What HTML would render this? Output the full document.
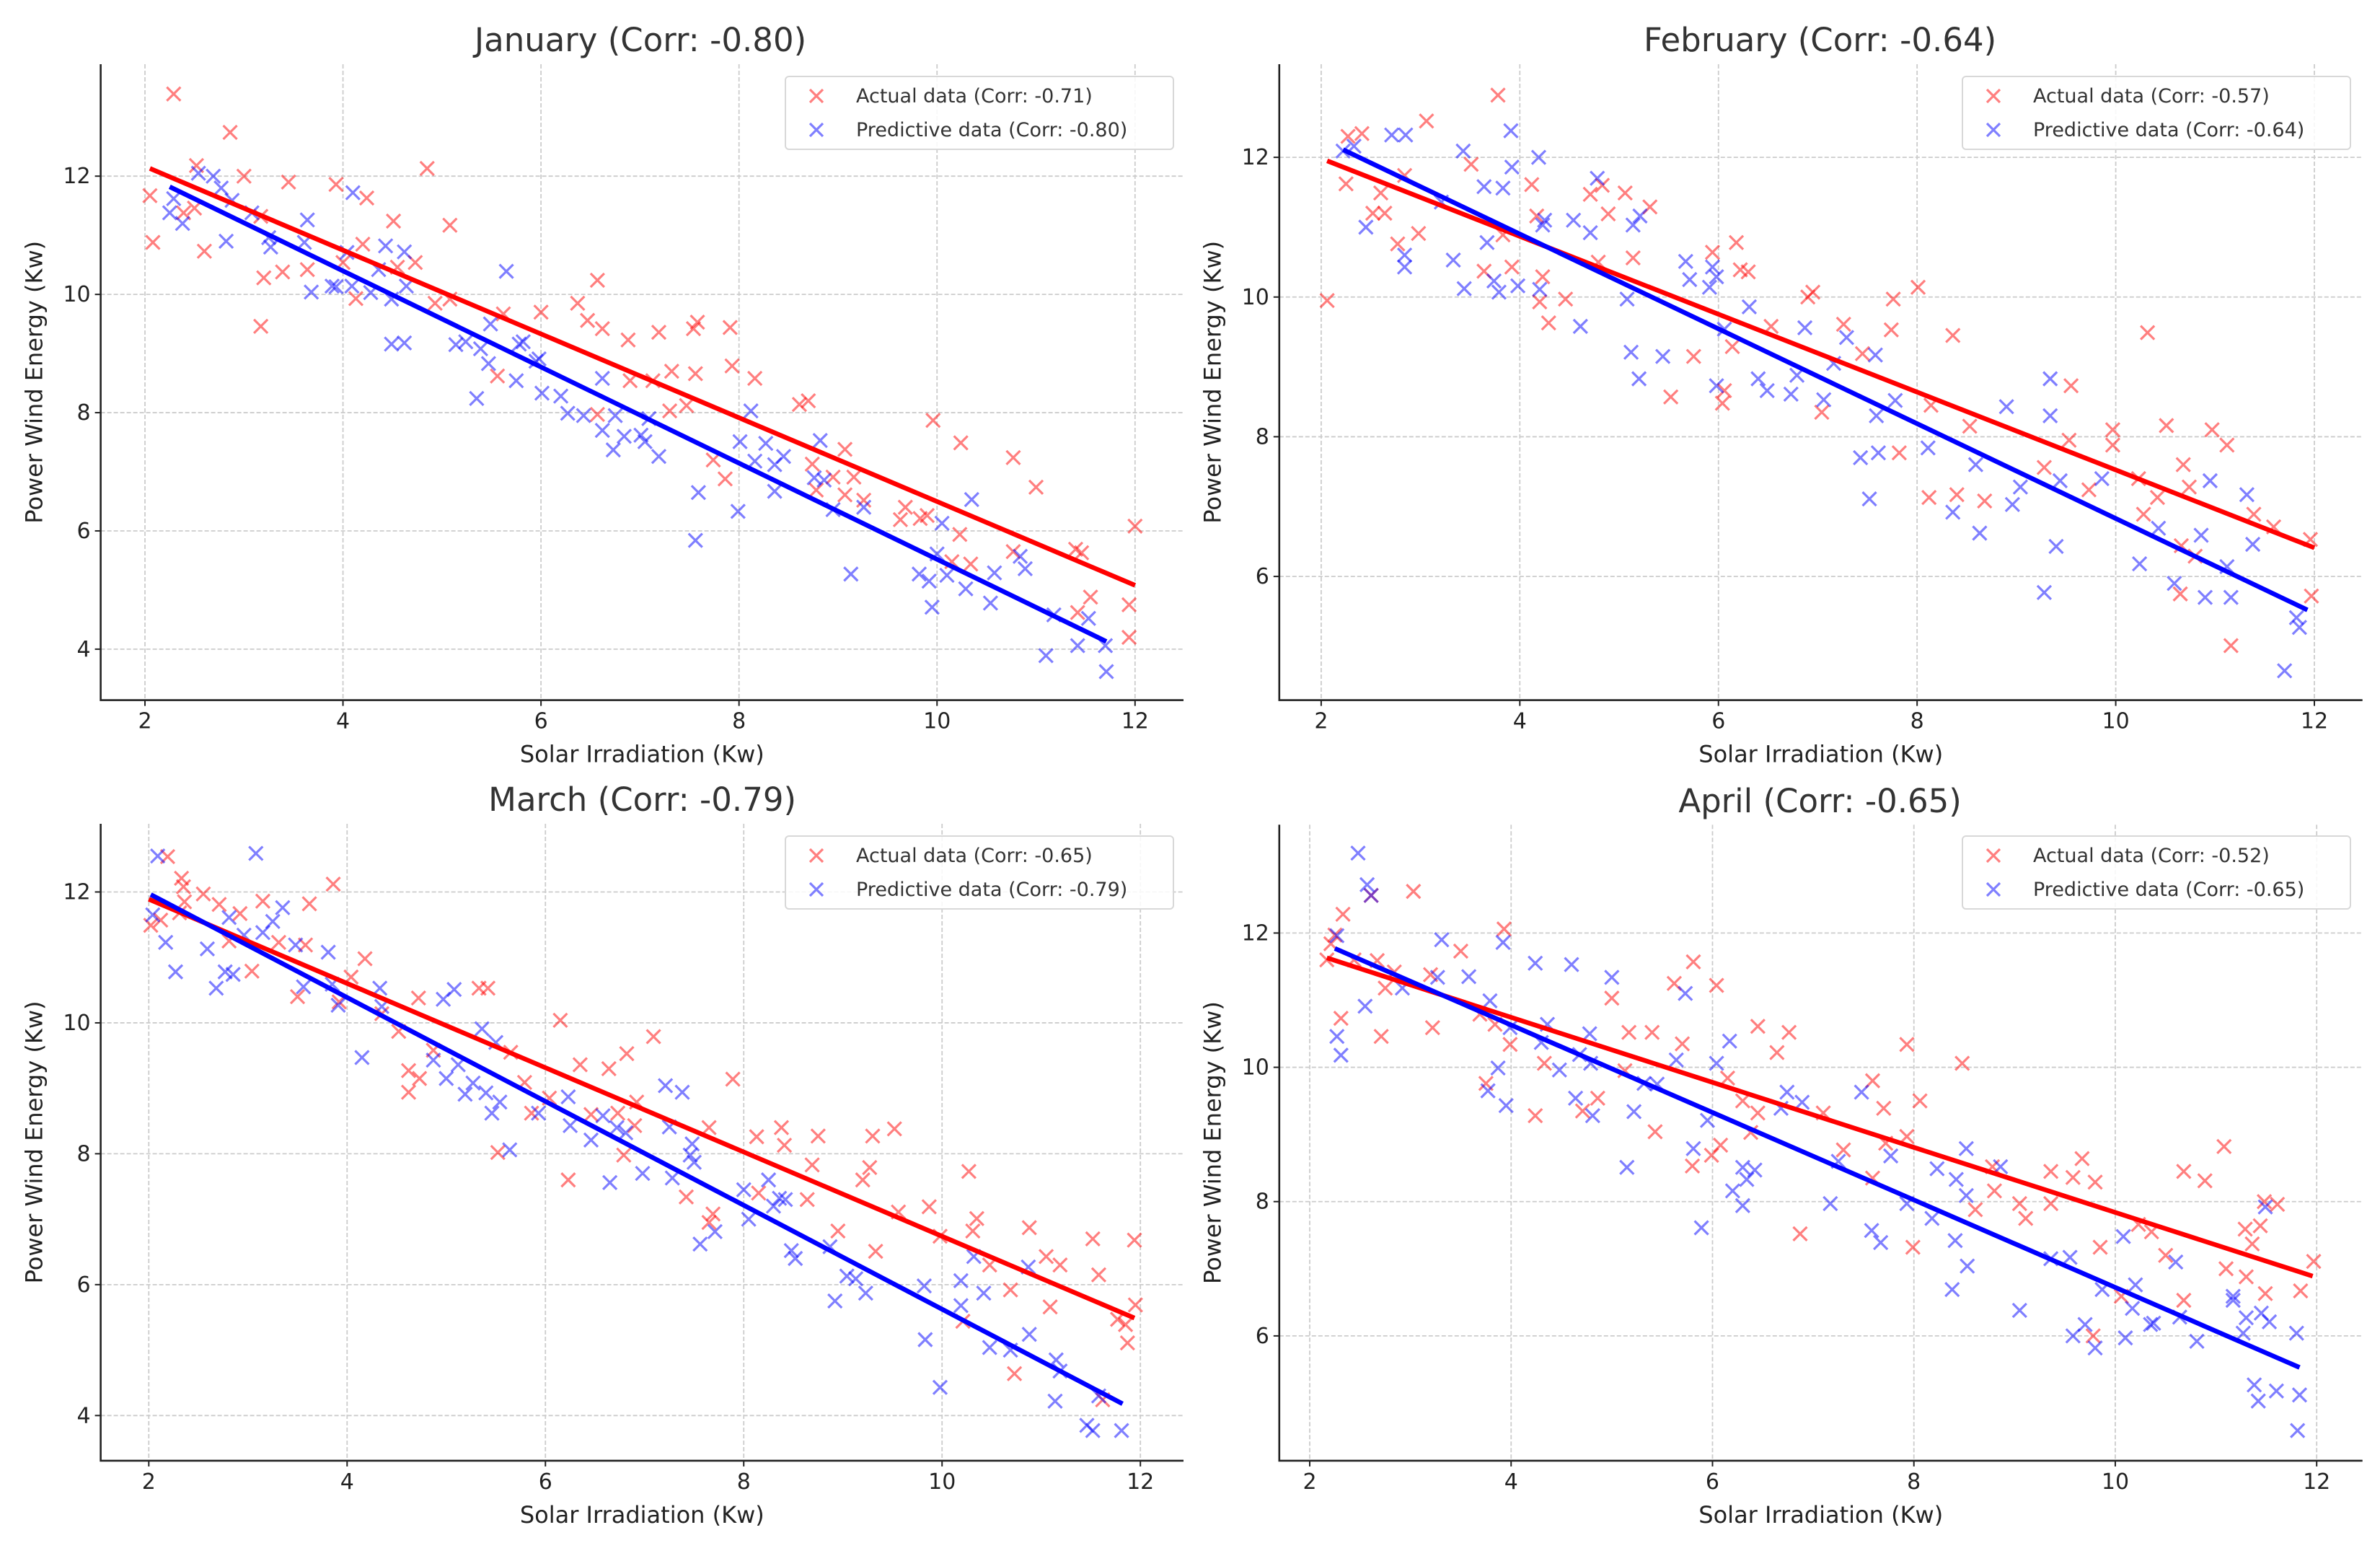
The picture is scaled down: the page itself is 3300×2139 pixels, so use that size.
<!DOCTYPE html>
<html><head><meta charset="utf-8"><style>
html,body{margin:0;padding:0;background:#fff;}
svg{display:block;font-family:"DejaVu Sans","Liberation Sans",sans-serif;}
</style></head><body>
<svg id="chart" xmlns="http://www.w3.org/2000/svg" width="3300" height="2139" viewBox="0 0 3300 2139"></svg>
<script>
const xTicks=[2,4,6,8,10,12];
const janYTicks=[4,6,8,10,12];
const febYTicks=[6,8,10,12];
const marYTicks=[4,6,8,10,12];
const aprYTicks=[6,8,10,12];
const titles=["January (Corr: -0.80)","February (Corr: -0.64)","March (Corr: -0.79)","April (Corr: -0.65)"];
const actualLabels=["Actual data (Corr: -0.71)","Actual data (Corr: -0.57)","Actual data (Corr: -0.65)","Actual data (Corr: -0.52)"];
const predLabels=["Predictive data (Corr: -0.80)","Predictive data (Corr: -0.64)","Predictive data (Corr: -0.79)","Predictive data (Corr: -0.65)"];
const janActualLine=[[2.05,12.13],[12.0,5.08]];
const janPredLine=[[2.25,11.82],[11.71,4.13]];
const febActualLine=[[2.06,11.95],[12.0,6.41]];
const febPredLine=[[2.22,12.11],[11.93,5.52]];
const marActualLine=[[2.0,11.89],[11.94,5.49]];
const marPredLine=[[2.02,11.96],[11.82,4.18]];
const aprActualLine=[[2.17,11.63],[11.96,6.89]];
const aprPredLine=[[2.25,11.77],[11.83,5.53]];
const janActual=[[2.05,11.67],[2.08,10.88],[2.29,13.39],[2.39,11.38],[2.5,11.46],[2.52,12.18],[2.6,10.73],[2.86,12.74],[3.0,12.0],[3.17,11.32],[3.17,9.46],[3.2,10.28],[3.39,10.38],[3.45,11.9],[3.64,10.42],[3.93,11.86],[4.0,10.54],[4.13,9.93],[4.2,10.85],[4.24,11.63],[4.51,11.24],[4.55,10.46],[4.73,10.54],[4.85,12.13],[4.93,9.85],[5.08,11.17],[5.08,9.92],[5.56,8.62],[5.62,9.67],[6.0,9.7],[6.37,9.85],[6.47,9.56],[6.57,10.24],[6.57,7.97],[6.62,9.42],[6.88,9.23],[6.9,8.54],[7.13,8.54],[7.19,9.36],[7.3,8.03],[7.32,8.7],[7.47,8.12],[7.54,9.42],[7.56,8.66],[7.58,9.53],[7.74,7.2],[7.86,6.88],[7.91,9.44],[7.93,8.79],[8.16,8.58],[8.61,8.14],[8.7,8.2],[8.74,7.13],[8.78,6.69],[8.95,6.91],[9.07,7.38],[9.07,6.61],[9.16,6.91],[9.26,6.52],[9.63,6.19],[9.68,6.4],[9.83,6.21],[9.9,6.26],[9.96,7.87],[10.15,5.48],[10.23,5.94],[10.24,7.49],[10.34,5.44],[10.77,7.24],[10.77,5.65],[11.0,6.74],[11.4,5.69],[11.46,5.63],[11.42,4.62],[11.55,4.88],[11.94,4.75],[11.94,4.2],[12.0,6.08]];
const janPred=[[2.25,11.38],[2.29,11.62],[2.38,11.2],[2.54,12.05],[2.69,12.0],[2.77,11.8],[2.82,10.9],[2.88,11.59],[3.08,11.38],[3.25,10.96],[3.27,10.8],[3.61,10.88],[3.64,11.26],[3.68,10.04],[3.89,10.14],[3.93,10.13],[4.04,10.71],[4.09,10.14],[4.1,11.72],[4.28,10.03],[4.36,10.42],[4.43,10.82],[4.49,9.16],[4.49,9.92],[4.62,9.18],[4.62,10.72],[4.64,10.14],[5.14,9.15],[5.24,9.2],[5.35,8.24],[5.39,9.08],[5.47,8.83],[5.49,9.5],[5.65,10.39],[5.75,8.54],[5.78,9.16],[5.82,9.2],[5.95,8.87],[5.98,8.91],[6.01,8.33],[6.2,8.28],[6.27,7.99],[6.43,7.95],[6.62,8.58],[6.62,7.7],[6.73,7.37],[6.75,7.95],[6.84,7.6],[7.01,7.62],[7.05,7.51],[7.09,7.9],[7.19,7.26],[7.59,6.65],[7.56,5.84],[7.99,6.33],[8.01,7.51],[8.12,8.03],[8.16,7.18],[8.27,7.48],[8.36,6.67],[8.36,7.12],[8.45,7.26],[8.76,6.9],[8.82,7.53],[8.86,6.86],[8.95,6.36],[9.26,6.4],[9.13,5.27],[9.82,5.27],[9.92,5.15],[9.95,4.71],[10.0,5.61],[10.05,6.13],[10.1,5.25],[10.29,5.02],[10.35,6.53],[10.54,4.78],[10.58,5.29],[10.84,5.57],[10.89,5.36],[11.1,3.89],[11.18,4.58],[11.42,4.06],[11.53,4.52],[11.7,4.06],[11.71,3.62]];
const febActual=[[2.06,9.95],[2.25,11.62],[2.27,12.3],[2.41,12.34],[2.6,11.49],[2.52,11.2],[2.64,11.2],[2.77,10.76],[2.84,11.74],[2.98,10.91],[3.06,12.52],[3.51,11.9],[3.64,10.37],[3.78,12.89],[3.83,10.89],[3.92,10.43],[4.12,11.61],[4.17,11.16],[4.2,9.93],[4.23,10.29],[4.29,9.63],[4.46,9.97],[4.71,11.47],[4.79,10.5],[4.83,11.6],[4.89,11.19],[5.06,11.49],[5.14,10.56],[5.31,11.29],[5.52,8.57],[5.75,9.15],[5.94,10.64],[6.04,8.48],[6.06,8.66],[6.14,9.29],[6.18,10.78],[6.22,10.39],[6.3,10.36],[6.53,9.58],[6.9,10.0],[6.95,10.07],[7.04,8.35],[7.26,9.61],[7.45,9.19],[7.76,9.97],[7.74,9.53],[7.82,7.77],[8.01,10.14],[8.14,8.45],[8.12,7.13],[8.36,9.45],[8.4,7.17],[8.53,8.15],[8.68,7.08],[9.28,7.56],[9.53,7.95],[9.55,8.73],[9.73,7.24],[9.97,8.1],[9.97,7.88],[10.23,7.4],[10.28,6.89],[10.32,9.49],[10.42,7.13],[10.51,8.16],[10.65,5.75],[10.66,6.44],[10.68,7.6],[10.74,7.28],[10.8,6.29],[10.97,8.1],[11.12,7.88],[11.16,5.01],[11.39,6.89],[11.59,6.71],[11.96,6.53],[11.97,5.72]];
const febPred=[[2.22,12.09],[2.33,12.16],[2.45,11.0],[2.71,12.32],[2.85,12.32],[2.84,10.6],[2.84,10.43],[3.21,11.36],[3.33,10.53],[3.43,12.09],[3.44,10.12],[3.64,11.58],[3.67,10.78],[3.74,10.23],[3.79,10.07],[3.83,11.56],[3.91,12.38],[3.92,11.86],[3.98,10.16],[4.19,12.0],[4.23,11.03],[4.2,10.11],[4.25,11.1],[4.54,11.1],[4.61,9.58],[4.71,10.92],[4.78,11.7],[5.08,9.97],[5.12,9.21],[5.14,11.03],[5.2,8.83],[5.21,11.16],[5.44,9.15],[5.67,10.51],[5.71,10.25],[5.91,10.14],[5.94,10.43],[5.98,10.29],[5.98,8.73],[6.06,9.54],[6.31,9.86],[6.4,8.83],[6.49,8.66],[6.73,8.61],[6.79,8.88],[6.87,9.56],[7.06,8.53],[7.16,9.05],[7.29,9.42],[7.43,7.7],[7.52,7.11],[7.58,9.17],[7.59,8.3],[7.61,7.77],[7.78,8.52],[8.11,7.84],[8.36,6.92],[8.59,7.6],[8.63,6.62],[8.9,8.43],[8.96,7.03],[9.04,7.28],[9.28,5.77],[9.34,8.83],[9.34,8.3],[9.4,6.43],[9.44,7.37],[9.86,7.4],[10.24,6.18],[10.43,6.69],[10.59,5.9],[10.86,6.59],[10.9,5.7],[10.95,7.37],[11.12,6.14],[11.16,5.7],[11.32,7.17],[11.38,6.46],[11.7,4.65],[11.82,5.41],[11.85,5.27]];
const marActual=[[2.02,11.49],[2.12,11.57],[2.19,12.54],[2.33,12.21],[2.35,12.08],[2.31,11.68],[2.36,11.85],[2.55,11.97],[2.71,11.81],[2.81,11.25],[2.92,11.67],[3.04,10.79],[3.15,11.86],[3.31,11.23],[3.5,10.4],[3.58,11.19],[3.62,11.82],[3.86,12.12],[3.92,10.32],[4.04,10.7],[4.18,10.98],[4.35,10.14],[4.52,9.87],[4.62,8.94],[4.62,9.27],[4.72,10.38],[4.73,9.15],[4.87,9.58],[5.33,10.53],[5.42,10.53],[5.52,8.02],[5.65,9.55],[5.79,9.09],[5.86,8.62],[6.04,8.85],[6.15,10.04],[6.23,7.6],[6.35,9.36],[6.46,8.6],[6.64,9.3],[6.73,8.62],[6.79,7.98],[6.82,9.53],[6.9,8.43],[6.92,8.79],[7.09,9.79],[7.42,7.34],[7.65,6.95],[7.69,7.08],[7.65,8.4],[7.89,9.14],[8.13,8.26],[8.15,7.4],[8.38,8.4],[8.41,8.13],[8.64,7.3],[8.69,7.83],[8.75,8.27],[8.95,6.82],[9.2,7.6],[9.27,7.79],[9.3,8.27],[9.33,6.51],[9.52,8.38],[9.56,7.11],[9.87,7.19],[9.98,6.74],[10.21,5.44],[10.27,7.73],[10.31,6.82],[10.35,7.01],[10.48,6.3],[10.69,5.92],[10.73,4.64],[10.88,6.87],[11.05,6.43],[11.09,5.66],[11.19,6.3],[11.52,6.7],[11.58,6.15],[11.62,4.24],[11.77,5.47],[11.85,5.39],[11.87,5.11],[11.94,6.68],[11.95,5.69]];
const marPred=[[2.04,11.65],[2.09,12.55],[2.17,11.23],[2.27,10.78],[2.59,11.13],[2.68,10.53],[2.77,10.78],[2.81,11.61],[2.85,10.74],[2.96,11.34],[3.08,12.59],[3.15,11.38],[3.25,11.55],[3.35,11.76],[3.48,11.19],[3.56,10.55],[3.81,11.08],[3.85,10.59],[3.91,10.27],[4.15,9.47],[4.33,10.53],[4.35,10.25],[4.87,9.43],[4.97,10.36],[5.0,9.15],[5.08,10.51],[5.12,9.36],[5.19,8.91],[5.27,9.08],[5.36,9.91],[5.4,8.93],[5.46,8.62],[5.5,9.7],[5.54,8.79],[5.64,8.06],[5.93,8.62],[6.23,8.87],[6.25,8.43],[6.46,8.21],[6.58,8.58],[6.65,7.56],[6.72,8.4],[6.81,8.32],[6.98,7.7],[7.21,9.04],[7.25,8.41],[7.28,7.63],[7.38,8.94],[7.46,7.98],[7.48,8.15],[7.5,7.87],[7.56,6.62],[7.71,6.81],[8.0,7.45],[8.05,7.0],[8.25,7.6],[8.3,7.2],[8.36,7.32],[8.42,7.3],[8.48,6.52],[8.52,6.4],[8.87,6.58],[8.92,5.75],[9.04,6.13],[9.13,6.09],[9.23,5.87],[9.82,5.98],[9.83,5.16],[9.98,4.43],[10.19,6.06],[10.19,5.68],[10.32,6.43],[10.42,5.87],[10.48,5.04],[10.69,5.0],[10.87,6.27],[10.88,5.24],[11.14,4.22],[11.15,4.85],[11.19,4.68],[11.46,3.85],[11.52,3.77],[11.58,4.3],[11.81,3.77]];
const aprActual=[[2.17,11.6],[2.21,11.84],[2.25,11.97],[2.31,10.73],[2.33,12.28],[2.44,11.6],[2.61,12.56],[2.67,11.59],[2.71,10.46],[2.75,11.18],[2.84,11.42],[3.03,12.62],[3.2,11.38],[3.22,10.59],[3.5,11.73],[3.69,10.79],[3.75,9.76],[3.84,10.64],[3.93,12.06],[3.99,10.34],[4.24,9.28],[4.33,10.06],[4.71,9.35],[4.86,9.54],[5.0,11.03],[5.13,9.95],[5.17,10.52],[5.4,10.52],[5.43,9.04],[5.62,11.25],[5.7,10.35],[5.8,8.53],[5.81,11.57],[5.99,8.69],[6.04,11.22],[6.08,8.84],[6.15,9.84],[6.3,9.5],[6.38,9.03],[6.45,9.32],[6.45,10.61],[6.64,10.22],[6.76,10.52],[6.87,7.52],[7.1,9.32],[7.3,8.77],[7.59,9.8],[7.59,8.35],[7.7,9.39],[7.72,8.87],[7.93,10.34],[7.93,8.97],[7.99,7.32],[8.06,9.5],[8.48,10.06],[8.61,7.88],[8.78,8.52],[8.8,8.16],[9.05,7.97],[9.11,7.75],[9.36,8.45],[9.36,7.97],[9.58,8.36],[9.67,8.64],[9.78,6.0],[9.8,8.29],[9.85,7.32],[10.06,6.59],[10.23,7.66],[10.36,7.55],[10.5,7.2],[10.68,8.45],[10.68,6.53],[10.89,8.31],[11.08,8.82],[11.1,7.0],[11.29,7.59],[11.3,6.88],[11.36,7.37],[11.44,7.64],[11.49,6.63],[11.48,8.0],[11.61,7.96],[11.84,6.67],[11.97,7.11]];
const aprPred=[[2.27,10.46],[2.27,11.96],[2.31,10.18],[2.48,13.19],[2.55,10.91],[2.57,12.72],[2.61,12.56],[2.92,11.18],[3.27,11.34],[3.31,11.9],[3.58,11.35],[3.77,9.65],[3.79,10.99],[3.87,9.99],[3.92,11.86],[3.95,9.43],[3.99,10.59],[4.24,11.55],[4.3,10.37],[4.36,10.64],[4.48,9.96],[4.6,11.53],[4.64,9.54],[4.68,10.19],[4.78,10.5],[4.79,10.06],[4.81,9.28],[5.0,11.34],[5.15,8.51],[5.22,9.34],[5.32,9.76],[5.45,9.75],[5.64,10.11],[5.73,11.1],[5.81,8.79],[5.89,7.61],[5.95,9.21],[6.04,10.06],[6.17,10.39],[6.2,8.16],[6.3,8.51],[6.3,7.94],[6.34,8.33],[6.42,8.47],[6.68,9.39],[6.74,9.63],[6.89,9.48],[7.17,7.97],[7.25,8.6],[7.48,9.63],[7.58,7.57],[7.67,7.39],[7.77,8.68],[7.93,7.97],[8.18,7.75],[8.23,8.49],[8.41,7.42],[8.42,8.33],[8.52,8.09],[8.52,8.79],[8.53,7.04],[8.38,6.69],[8.86,8.52],[9.05,6.38],[9.36,7.15],[9.55,7.17],[9.58,6.0],[9.7,6.17],[9.8,5.82],[9.87,6.69],[10.08,7.48],[10.1,5.97],[10.17,6.41],[10.2,6.76],[10.35,6.17],[10.38,6.19],[10.6,7.1],[10.64,6.28],[10.81,5.92],[11.17,6.53],[11.17,6.59],[11.27,6.04],[11.3,6.27],[11.38,5.27],[11.42,5.03],[11.45,6.34],[11.49,7.92],[11.53,6.21],[11.6,5.18],[11.8,6.04],[11.83,5.12],[11.81,4.59]];

const NS="http://www.w3.org/2000/svg";
const svg=document.getElementById("chart");
function mk(tag,attrs,parent){const e=document.createElementNS(NS,tag);for(const k in attrs)e.setAttribute(k,attrs[k]);(parent||svg).appendChild(e);return e;}

const panels=[
 {box:[139.6,89,1641,970.6],xp:[201,1573.8],yv:[12,4],yp:[244.2,899.9],ticks:janYTicks,actual:janActual,pred:janPred,aL:janActualLine,pL:janPredLine,title:[888,55],ylab:47.6,leg:[1089,106],key:"january"},
 {box:[1773.8,89,3275.7,970.6],xp:[1831.9,3209],yv:[12,6],yp:[218.1,799.1],ticks:febYTicks,actual:febActual,pred:febPred,aL:febActualLine,pL:febPredLine,title:[2523.6,55],ylab:1681.7,leg:[2721,106],key:"february"},
 {box:[139.6,1142,1641,2024.9],xp:[206.3,1581.2],yv:[12,4],yp:[1236.5,1962.3],ticks:marYTicks,actual:marActual,pred:marPred,aL:marActualLine,pL:marPredLine,title:[890.6,1108],ylab:47.6,leg:[1089,1159],key:"march"},
 {box:[1773.8,1143.3,3275.7,2024.9],xp:[1816,3212.2],yv:[12,6],yp:[1293.4,1851.9],ticks:aprYTicks,actual:aprActual,pred:aprPred,aL:aprActualLine,pL:aprPredLine,title:[2523.6,1110],ylab:1681.7,leg:[2721,1159],key:"april"}
];

function cross(g,cx,cy,color,r){
  const p=mk("path",{d:`M${cx-r},${cy-r}L${cx+r},${cy+r}M${cx-r},${cy+r}L${cx+r},${cy-r}`,stroke:color,"stroke-width":3.2,"stroke-opacity":0.5,fill:"none"},g);
  return p;
}

panels.forEach((P,i)=>{
  const [L,T,R,B]=P.box;
  const sx=v=>P.xp[0]+(v-2)*(P.xp[1]-P.xp[0])/10;
  const sy=v=>P.yp[0]+(v-P.yv[0])*(P.yp[1]-P.yp[0])/(P.yv[1]-P.yv[0]);
  const g=mk("g",{});
  
  
  // grid
  const grid=mk("g",{},g);
  
  
  xTicks.forEach(t=>{mk("line",{x1:sx(t),x2:sx(t),y1:T,y2:B,stroke:"#cccccc","stroke-width":1.8,"stroke-dasharray":"6,3"},grid);});
  P.ticks.forEach(t=>{mk("line",{x1:L,x2:R,y1:sy(t),y2:sy(t),stroke:"#cccccc","stroke-width":1.8,"stroke-dasharray":"6,3"},grid);});
  // points
  const ag=mk("g",{},g);
  
  
  P.actual.forEach(d=>{const m=cross(ag,sx(d[0]),sy(d[1]),"#ff0000",9.5);
    
    });
  const pg=mk("g",{},g);
  
  
  P.pred.forEach(d=>{const m=cross(pg,sx(d[0]),sy(d[1]),"#0000ff",9.5);
    
    });
  // regression lines
  const rl=mk("line",{x1:sx(P.aL[0][0]),y1:sy(P.aL[0][1]),x2:sx(P.aL[1][0]),y2:sy(P.aL[1][1]),stroke:"#ff0000","stroke-width":6.5},g);
  
  
  const bl=mk("line",{x1:sx(P.pL[0][0]),y1:sy(P.pL[0][1]),x2:sx(P.pL[1][0]),y2:sy(P.pL[1][1]),stroke:"#0000ff","stroke-width":6.5},g);
  
  
  // axes
  const ax=mk("path",{d:`M${L},${T}L${L},${B}L${R},${B}`,stroke:"#222","stroke-width":2.6,fill:"none"},g);
  
  
  xTicks.forEach(t=>{
    mk("line",{x1:sx(t),x2:sx(t),y1:B,y2:B+8,stroke:"#222","stroke-width":2},g);
    const tx=mk("text",{x:sx(t),y:B+39,"text-anchor":"middle","font-size":30,fill:"#222"},g);
    tx.textContent=t;
    
    
  });
  P.ticks.forEach(t=>{
    mk("line",{x1:L-8,x2:L,y1:sy(t),y2:sy(t),stroke:"#222","stroke-width":2},g);
    const tx=mk("text",{x:L-14,y:sy(t)+10,"text-anchor":"end","font-size":30,fill:"#222"},g);
    tx.textContent=t;
    
    
  });
  const xt=mk("text",{x:(L+R)/2,y:B+86,"text-anchor":"middle","font-size":32,fill:"#222"},g);
  xt.textContent="Solar Irradiation (Kw)";
  
  
  const yc=(T+B)/2;
  const yt=mk("text",{x:P.ylab,y:yc,"text-anchor":"middle","dominant-baseline":"central","font-size":32,fill:"#222",transform:`rotate(-90 ${P.ylab} ${yc})`},g);
  yt.textContent="Power Wind Energy (Kw)";
  
  
  const tt=mk("text",{x:P.title[0],y:P.title[1]+16,"text-anchor":"middle","font-size":45,fill:"#333"},g);
  tt.textContent=titles[i];
  
  
  // legend
  const [lx,ly]=P.leg;
  const lg=mk("g",{},g);
  
  
  mk("rect",{x:lx,y:ly,width:538,height:101,rx:5,fill:"#fff","fill-opacity":0.85,stroke:"#d8d8d8","stroke-width":2},lg);
  const e1=cross(lg,lx+43,ly+27,"#ff0000",9);
  
  
  const e2=cross(lg,lx+43,ly+74,"#0000ff",9);
  
  
  const t1=mk("text",{x:lx+98,y:ly+36,"font-size":27,fill:"#333"},lg);
  t1.textContent=actualLabels[i];
  
  
  const t2=mk("text",{x:lx+98,y:ly+83,"font-size":27,fill:"#333"},lg);
  t2.textContent=predLabels[i];
  
  
});
</script>
</body></html>
